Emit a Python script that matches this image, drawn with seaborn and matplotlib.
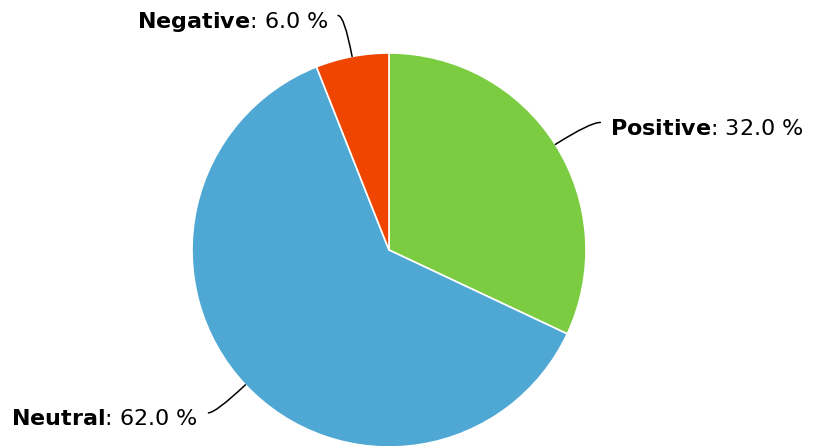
import numpy as np
import seaborn as sns
import matplotlib.pyplot as plt

# data
labels = ["Positive", "Neutral", "Negative"]
shares = [32.0, 62.0, 6.0]
colors = ["#7ccc41", "#4fa7d4", "#f04500"]

sns.set_style("white")
plt.rcParams["font.family"] = ["DejaVu Sans"]
plt.rcParams["mathtext.fontset"] = "dejavusans"

W, H = 814, 446
fig = plt.figure(figsize=(W / 100, H / 100), dpi=100)
ax = fig.add_axes([0, 0, 1, 1])

cx, cy, r = 389, H - 250, 197
wedges, _ = ax.pie(shares, colors=colors, startangle=90, counterclock=False,
                   center=(cx, cy), radius=r, frame=True,
                   wedgeprops=dict(edgecolor="white", linewidth=1.2))
ax.set_xlim(0, W)
ax.set_ylim(0, H)
ax.set_aspect("equal")
ax.axis("off")

# connector end offsets (px) from the slice edge
offsets = {"Positive": (45, 22), "Neutral": (-37, -28), "Negative": (-14, 41)}

for w, name, val in zip(wedges, labels, shares):
    ang = np.deg2rad((w.theta1 + w.theta2) / 2)
    ex, ey = cx + r * np.cos(ang), cy + r * np.sin(ang)
    dx, dy = offsets[name]
    tx, ty = ex + dx, ey + dy
    ax.annotate("", xy=(ex, ey), xytext=(tx, ty),
                arrowprops=dict(arrowstyle="-", color="black", lw=1.1,
                                shrinkA=0, shrinkB=0,
                                connectionstyle=f"angle3,angleA=0,angleB={np.rad2deg(ang):.1f}"))
    right = dx > 0
    ax.text(tx + (10 if right else -10), ty - 6.5, rf"$\bf{{{name}}}$: {val:.1f} %",
            ha="left" if right else "right", va="center", fontsize=16, color="black")

fig.savefig("out.png", dpi=100)
